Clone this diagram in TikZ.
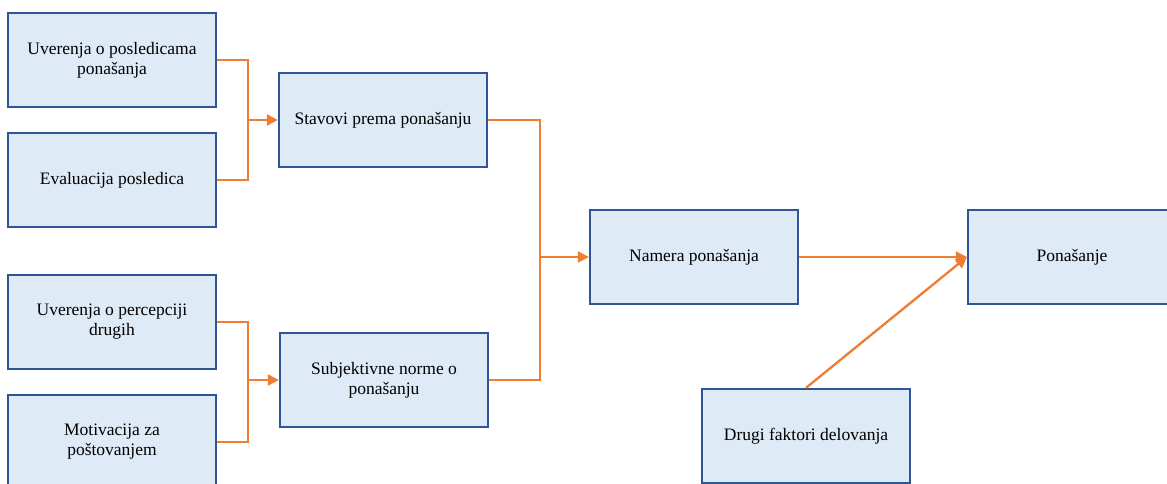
\documentclass[tikz,border=0pt]{standalone}
\usepackage{fontspec}
\setmainfont{Liberation Serif}
\usetikzlibrary{arrows.meta}
\definecolor{boxfill}{HTML}{DEEAF6}
\definecolor{boxline}{HTML}{2F5597}
\definecolor{flow}{HTML}{ED7D31}
\begin{document}
\begin{tikzpicture}[x=1pt,y=-1pt,
  block/.style={draw=boxline, fill=boxfill, line width=2.3pt,
    minimum width=208pt, minimum height=94pt, inner sep=0pt,
    align=center, font=\fontsize{17.5}{20}\selectfont, text=black},
  txt/.style={yshift=-3pt},
  link/.style={draw=flow, line width=2.3pt},
  arrowlink/.style={link, -{Triangle[length=11pt,width=11pt]}}]
\useasboundingbox (0,0) rectangle (1167,484);

% inputs to attitudes
\node[block] (b1) at (112,60) {Uverenja o posledicama\\ponašanja};
\node[block] (b2) at (112,180) {Evaluacija posledica};
% inputs to subjective norms
\node[block] (b3) at (112,322) {Uverenja o percepciji\\drugih};
\node[block] (b4) at (112,442) {Motivacija za\\poštovanjem};
% middle column
\node[block] (st) at (383,120) {Stavovi prema ponašanju};
\node[block] (sn) at (384,380) {Subjektivne norme o\\ponašanju};
% intention, behaviour, other factors
\node[block] (nm) at (694,257) {Namera ponašanja};
\node[block] (pb) at (1072,257) {Ponašanje};
\node[block] (df) at (806,436) {Drugi faktori delovanja};

% junction points of the elbow connectors
\coordinate (j1) at (248,120);
\coordinate (j2) at (248,380);
\coordinate (j3) at (540,257);

\draw[link] (b1.east) -| (j1) |- (b2.east);
\draw[arrowlink] (j1) -- (st.west);
\draw[link] (b3.east) -| (j2) |- (b4.east);
\draw[arrowlink] (j2) -- (sn.west);
\draw[link] (st.east) -| (j3) |- (sn.east);
\draw[arrowlink] (j3) -- (nm.west);
\draw[arrowlink] (nm.east) -- (pb.west);
\draw[arrowlink] (df.north) -- (pb.west);
\end{tikzpicture}
\end{document}
